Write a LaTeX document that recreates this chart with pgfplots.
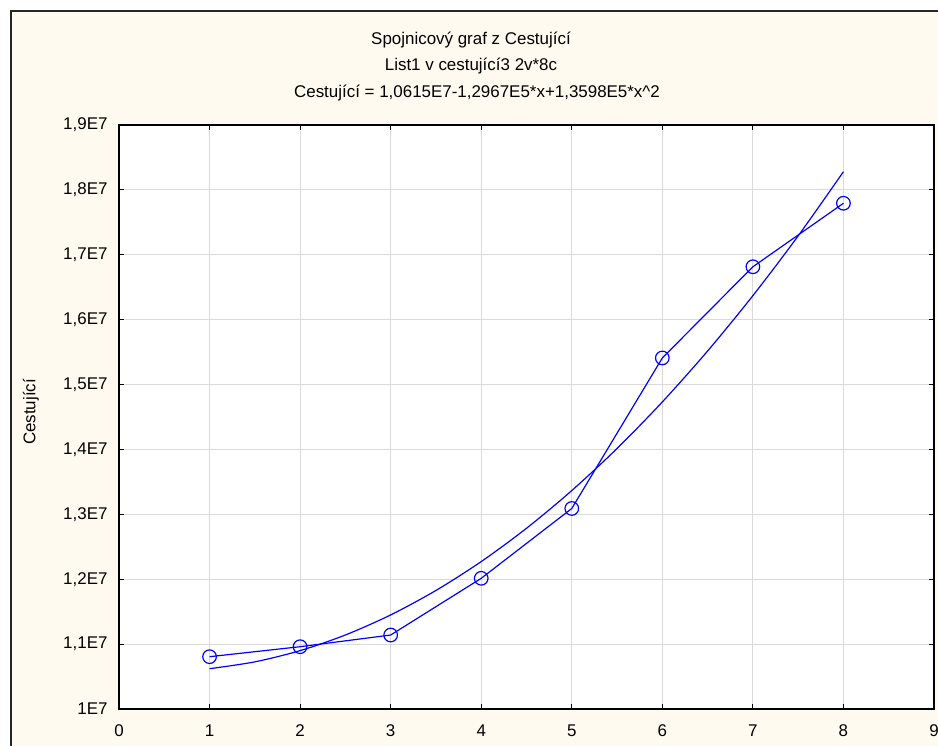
\documentclass[border=0pt]{standalone}
\usepackage{fontspec}
\setmainfont{Liberation Sans}
\usepackage{pgfplots}
\pgfplotsset{compat=1.18}
\definecolor{cream}{HTML}{FFFAF0}
\definecolor{gridgray}{HTML}{DADADA}
\definecolor{lineblue}{HTML}{0000FF}
\newcommand{\lab}{\fontsize{17}{20}\selectfont}
\begin{document}
\begin{tikzpicture}
% page = 938 x 746 px, 1bp = 1px, y measured from the bottom
\useasboundingbox (0,0) rectangle (938bp,746bp);
\fill[white] (0,0) rectangle (938bp,746bp);
\fill[cream] (11bp,0) rectangle (938bp,735bp);
\draw[line width=1.5bp, black!85] (11bp,0) -- (11bp,735bp) -- (938bp,735bp);

\node[font=\lab] at (471bp,706bp) {Spojnicový graf z Cestující};
\node[font=\lab] at (471bp,680bp) {List1 v cestující3 2v*8c};
\node[font=\lab] at (477bp,653bp) {Cestující = 1,0615E7-1,2967E5*x+1,3598E5*x\textasciicircum2};
\node[font=\lab, rotate=90] at (31bp,334bp) {Cestující};

\begin{axis}[
    at={(119bp,37bp)}, anchor=south west,
    scale only axis, width=815bp, height=584bp,
    xmin=0, xmax=9, ymin=10000000, ymax=19000000,
    xtick={0,...,9},
    ytick={10000000,11000000,12000000,13000000,14000000,15000000,16000000,17000000,18000000,19000000},
    yticklabels={1E7,{1,1E7},{1,2E7},{1,3E7},{1,4E7},{1,5E7},{1,6E7},{1,7E7},{1,8E7},{1,9E7}},
    scaled y ticks=false,
    tick label style={font=\lab},
    /pgf/number format/assume math mode=true,
    xticklabel style={yshift=-12bp},
    yticklabel style={xshift=-8bp},
    tick pos=both,
    major tick length=5bp,
    tick style={black, line width=1bp},
    grid=major,
    major grid style={gridgray, line width=1.2bp},
    axis line style={black, line width=1.6bp},
    axis background/.style={fill=white},
]
\addplot[lineblue, line width=1.2bp, mark=o, mark size=6.8bp,
         mark options={line width=1.2bp}] coordinates {
    (1,10806000) (2,10960000) (3,11140000) (4,12014000)
    (5,13090000) (6,15410000) (7,16815000) (8,17794000)
};
% fitted curve from the equation in the title
\addplot[lineblue, line width=1.2bp, smooth] coordinates {
    (1,10621000) (1.5,10726500) (2,10899600) (2.5,11140700)
    (3,11449800) (3.5,11827000) (4,12272000) (4.5,12785100)
    (5,13366100) (5.5,14015200) (6,14732300) (6.5,15517300)
    (7,16370300) (7.5,17291400) (8,18280300)
};
\end{axis}
\end{tikzpicture}
\end{document}
